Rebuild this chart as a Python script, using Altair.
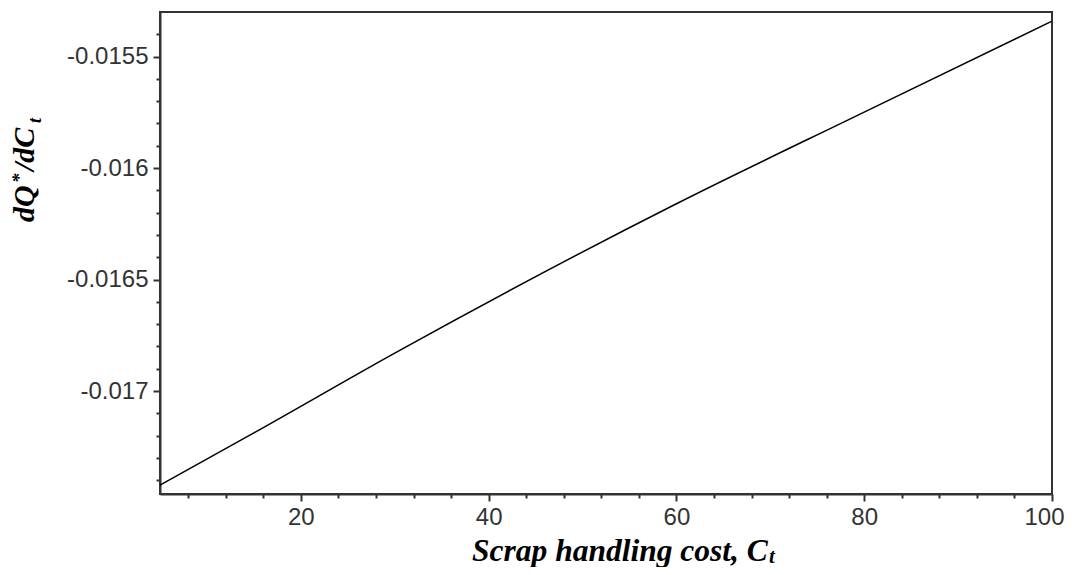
import altair as alt
import pandas as pd

# Data
cost = [5, 15, 30, 60, 80, 100]
dq_dct = [-0.017422, -0.017188, -0.016830, -0.016160, -0.015749, -0.015341]

x_major = [20, 40, 60, 80, 100]
x_minor = [8, 12, 16, 24, 28, 32, 36, 44, 48, 52, 56, 64, 68, 72, 76, 84, 88, 92, 96]
y_major = [-0.0155, -0.016, -0.0165, -0.017]
y_minor = [-0.0174, -0.0173, -0.0172, -0.0171, -0.0169, -0.0168, -0.0167, -0.0166,
           -0.0164, -0.0163, -0.0162, -0.0161, -0.0159, -0.0158, -0.0157, -0.0156, -0.0154]

x_domain = [5, 100]
y_domain = [-0.017462, -0.0153]

df = pd.DataFrame({"x": cost, "y": dq_dct})

LABEL_FONT = "Liberation Sans"
AX = "#333333"

xs = alt.Scale(domain=x_domain, nice=False, zero=False)
ys = alt.Scale(domain=y_domain, nice=False, zero=False)

base = alt.Chart(df)

line = base.mark_line(color="black", strokeWidth=1.5, interpolate="monotone").encode(
    x=alt.X("x:Q", scale=xs, axis=alt.Axis(
        values=x_major, orient="bottom", title=None, grid=False, tickSize=7,
        tickWidth=2, tickColor=AX, domainColor=AX, domainWidth=2,
        labelFont=LABEL_FONT, labelFontSize=24, labelColor=AX, labelPadding=4,
        labelFlush=True, labelFlushOffset=12, labelOverlap=False)),
    y=alt.Y("y:Q", scale=ys, axis=alt.Axis(
        values=y_major, orient="left", title=None, grid=False, tickSize=7,
        tickWidth=2, tickColor=AX, domainColor=AX, domainWidth=2,
        labelFont=LABEL_FONT, labelFontSize=24, labelColor=AX, labelPadding=5,
        labelExpr="'' + datum.value", labelFlush=False, labelOverlap=False)),
)

minor = base.mark_point(opacity=0).encode(
    x=alt.X("x:Q", scale=xs, axis=alt.Axis(
        values=x_minor, orient="bottom", title=None, grid=False, labels=False,
        domain=False, tickSize=4, tickWidth=2, tickColor=AX)),
    y=alt.Y("y:Q", scale=ys, axis=alt.Axis(
        values=y_minor, orient="left", title=None, grid=False, labels=False,
        domain=False, tickSize=4, tickWidth=2, tickColor=AX)),
)

def txt(s, x, y, size, angle=0):
    return alt.Chart(pd.DataFrame({"t": [s]})).mark_text(
        font="Liberation Serif", fontStyle="italic", fontWeight="bold",
        fontSize=size, align="left", baseline="alphabetic", color="black",
        angle=angle,
    ).encode(x=alt.value(x), y=alt.value(y), text="t:N")

texts = [
    txt("Scrap handling cost, C", 312, 549, 31.5),
    txt("t", 609, 551, 21),
    txt("dQ", -126, 210, 30, 270),
    txt("*", -135, 171, 19, 270),
    txt("/dC", -126, 159, 30, 270),
    txt("t", -119, 111, 18, 270),
]

chart = alt.layer(line, minor, *texts).resolve_scale(
    x="independent", y="independent"
).properties(
    width=892, height=482,
    autosize=alt.AutoSizeParams(type="none"),
    padding={"left": 152, "top": 4, "right": 13, "bottom": 73},
).configure_view(stroke=AX, strokeWidth=2)

chart.save("out.html", embed_options={"renderer": "svg", "actions": False})
